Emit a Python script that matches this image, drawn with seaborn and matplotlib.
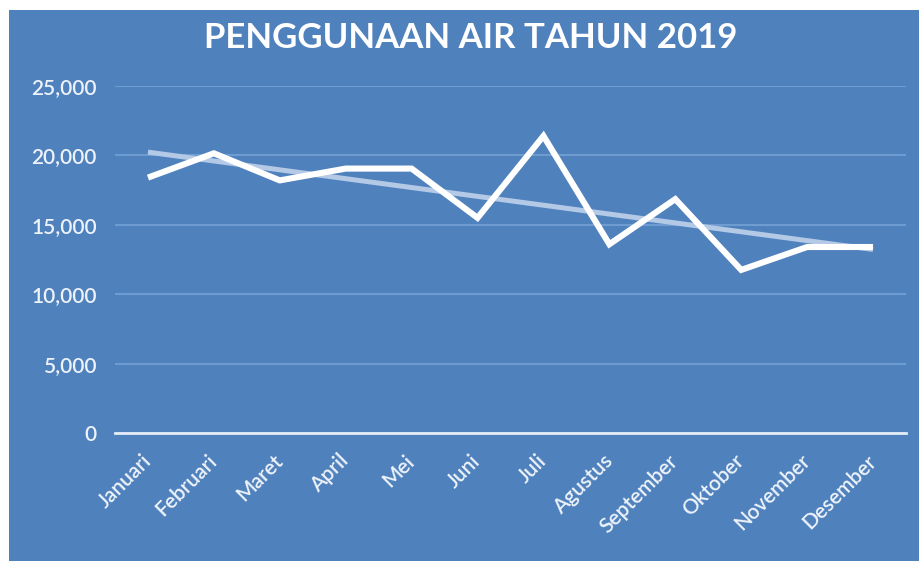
import matplotlib
matplotlib.use("Agg")
import matplotlib.pyplot as plt
import numpy as np
import pandas as pd
import seaborn as sns
from matplotlib.patches import Rectangle

# Monthly water usage, 2019
months = ["Januari", "Februari", "Maret", "April", "Mei", "Juni", "Juli",
          "Agustus", "September", "Oktober", "November", "Desember"]
usage = [18400, 20150, 18200, 19050, 19050, 15500, 21400,
         13600, 16850, 11750, 13400, 13400]
y_ticks = [0, 5000, 10000, 15000, 20000, 25000]
title = "PENGGUNAAN AIR TAHUN 2019"

BG = "#4F81BD"
GRID = "#6E9BD0"
TEXT = "#EEF3FA"
TREND = "#B3C9E6"

sns.set_theme(style="white")
plt.rcParams["font.family"] = ["Lato", "DejaVu Sans"]

df = pd.DataFrame({"idx": np.arange(len(months)), "month": months, "usage": usage})

fig = plt.figure(figsize=(9.19, 5.61), dpi=100)
fig.patch.set_facecolor("white")
# blue chart area (image has a thin white strip on left and top)
fig.patches.append(Rectangle((9 / 919, 0), 1 - 9 / 919, 1 - 10 / 561,
                             transform=fig.transFigure, facecolor=BG,
                             edgecolor="none", zorder=-10))

ax = fig.add_axes([115 / 919, (561 - 433) / 561, (906 - 115) / 919, (433 - 86) / 561])
ax.set_facecolor("none")
ax.set_zorder(1)

# trendline first so the data line sits on top
sns.regplot(data=df, x="idx", y="usage", ax=ax, scatter=False, ci=None,
            line_kws={"color": TREND, "linewidth": 3.6, "solid_capstyle": "butt", "zorder": 3})
sns.lineplot(data=df, x="idx", y="usage", ax=ax, color="white", linewidth=4.4,
             zorder=4)
for ln in ax.lines[-1:]:
    ln.set_solid_joinstyle("miter")
    ln.set_solid_capstyle("butt")

ax.set_xlim(-0.5, len(months) - 0.5)
ax.set_ylim(0, 25000)
ax.set_yticks(y_ticks)
ax.set_yticklabels([f"{v:,}" for v in y_ticks], fontweight="semibold")
ax.set_xticks(df["idx"])
ax.set_xticklabels(months, rotation=45, ha="right", va="center",
                   rotation_mode="anchor", fontweight="semibold")

ax.grid(axis="y", color=GRID, linewidth=1.5)
ax.grid(axis="x", visible=False)
ax.set_axisbelow(True)
for side in ["top", "right", "left"]:
    ax.spines[side].set_visible(False)
ax.spines["bottom"].set_color("#E4ECF6")
ax.spines["bottom"].set_linewidth(2)
ax.spines["bottom"].set_zorder(2)

ax.tick_params(axis="y", length=0, pad=13, labelsize=15, labelcolor=TEXT)
ax.tick_params(axis="x", length=0, pad=18, labelsize=15, labelcolor=TEXT)
ax.set_xlabel("")
ax.set_ylabel("")

fig.text(471 / 919, 1 - 38 / 561, title, ha="center", va="center",
         color="white", fontsize=25, fontweight="bold")

fig.savefig("out.png", dpi=100, facecolor=fig.get_facecolor())
